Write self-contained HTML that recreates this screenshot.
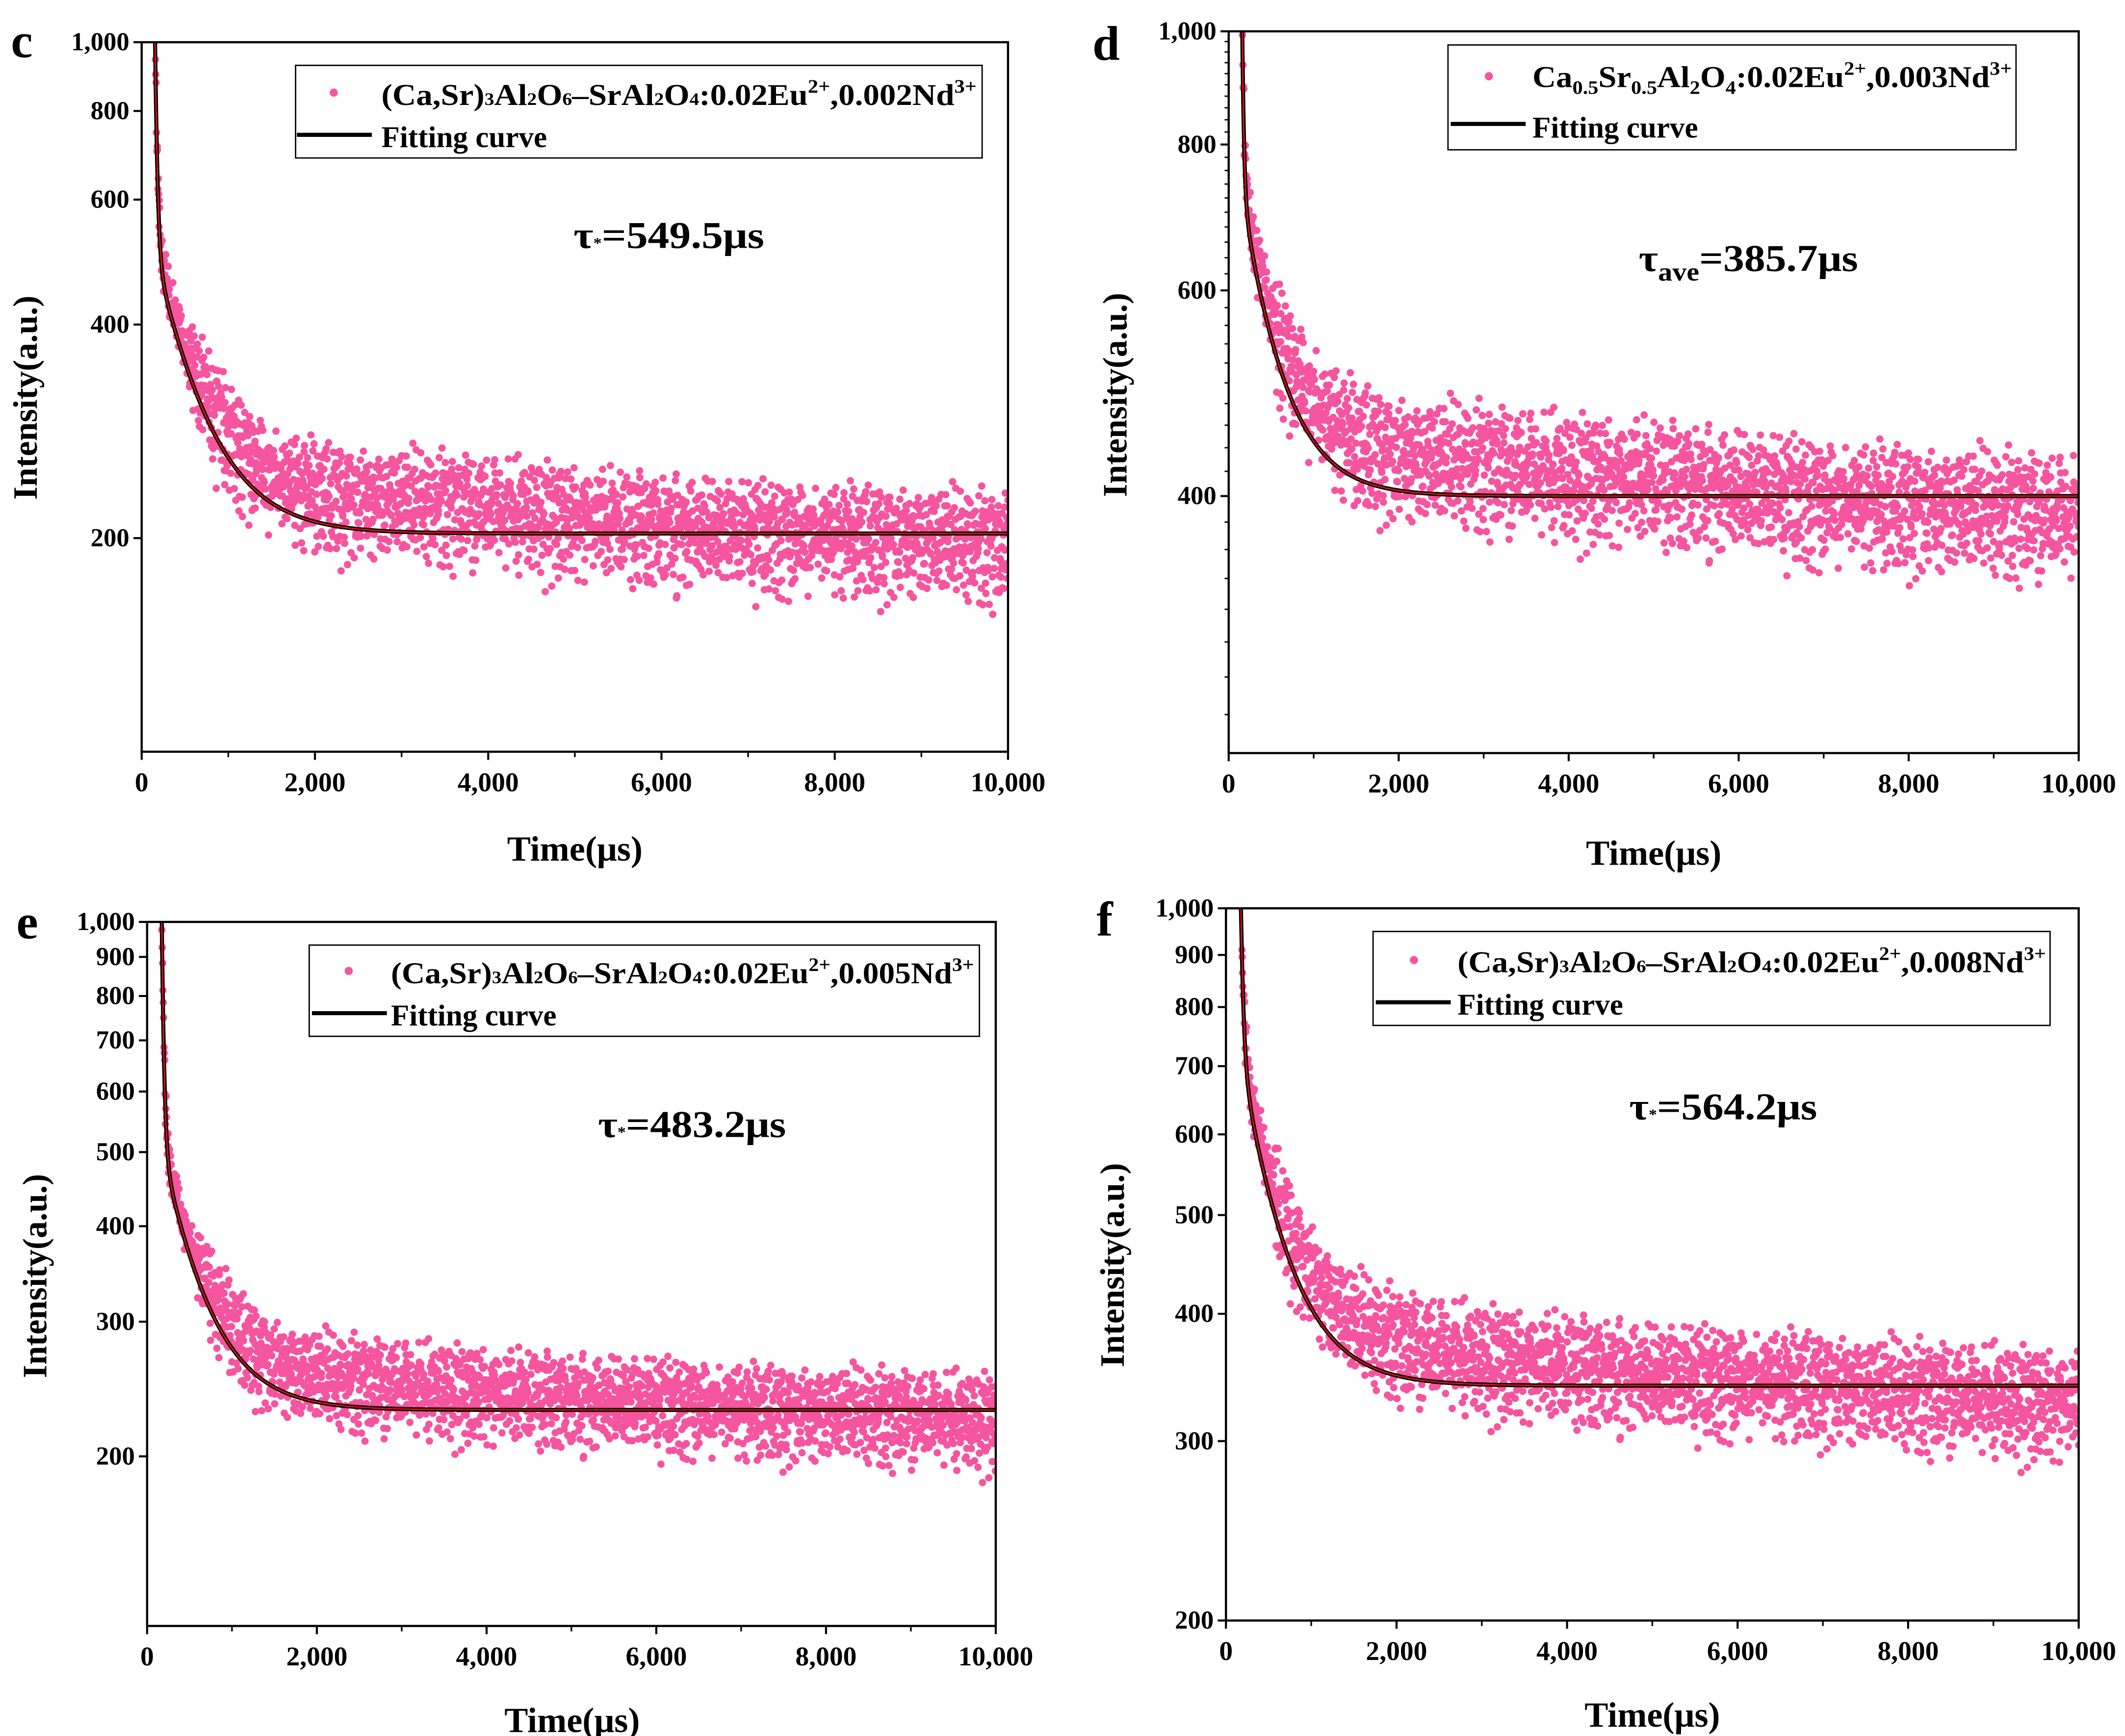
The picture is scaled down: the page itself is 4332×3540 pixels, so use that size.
<!DOCTYPE html>
<html><head><meta charset="utf-8">
<style>
html,body{margin:0;padding:0;background:#fff;}
svg{display:block;}
text{font-family:"Liberation Serif",serif;font-weight:bold;fill:#000;}
</style></head>
<body>
<svg id="fig" xmlns="http://www.w3.org/2000/svg" width="4332" height="3540" viewBox="0 0 1560 1274.8" preserveAspectRatio="none">
<rect x="0" y="0" width="1560" height="1275" fill="#fff"/>
<defs>
<clipPath id="clip-c"><rect x="104" y="31" width="636" height="521"/></clipPath>
<clipPath id="clip-d"><rect x="902" y="23" width="624" height="530"/></clipPath>
<clipPath id="clip-e"><rect x="108" y="677" width="623" height="517"/></clipPath>
<clipPath id="clip-f"><rect x="900" y="667" width="626" height="523"/></clipPath>
</defs>
<g id="layer-c"></g>
<g id="layer-d"></g>
<g id="layer-e"></g>
<g id="layer-f"></g>

<text x="8" y="42" font-size="36">c</text>
<text x="802" y="44" font-size="36">d</text>
<text x="12" y="689" font-size="36">e</text>
<text x="805" y="687" font-size="36">f</text>

<g>
<rect x="217" y="48" width="504" height="68" fill="#fff" stroke="#000" stroke-width="1"/>
<circle cx="245" cy="68" r="3" fill="#f5559f"/>
<line x1="218" y1="99" x2="273" y2="99" stroke="#000" stroke-width="3"/>
<text x="280" y="77" font-size="22" textLength="437" lengthAdjust="spacingAndGlyphs">(Ca,Sr)<tspan font-size="13">3</tspan>Al<tspan font-size="13">2</tspan>O<tspan font-size="13">6</tspan>–SrAl<tspan font-size="13">2</tspan>O<tspan font-size="13">4</tspan>:0.02Eu<tspan font-size="14" dy="-9">2+</tspan><tspan dy="9">,0.002Nd</tspan><tspan font-size="14" dy="-9">3+</tspan></text>
<text x="280" y="108" font-size="22">Fitting curve</text>
</g>
<g>
<rect x="1063" y="33" width="417" height="77" fill="#fff" stroke="#000" stroke-width="1"/>
<circle cx="1093" cy="56" r="3" fill="#f5559f"/>
<line x1="1065" y1="91" x2="1120" y2="91" stroke="#000" stroke-width="3"/>
<text x="1125" y="64" font-size="22" textLength="352" lengthAdjust="spacingAndGlyphs">Ca<tspan font-size="14" dy="5">0.5</tspan><tspan dy="-5">Sr</tspan><tspan font-size="14" dy="5">0.5</tspan><tspan dy="-5">Al</tspan><tspan font-size="14" dy="5">2</tspan><tspan dy="-5">O</tspan><tspan font-size="14" dy="5">4</tspan><tspan dy="-5">:0.02Eu</tspan><tspan font-size="14" dy="-9">2+</tspan><tspan dy="9">,0.003Nd</tspan><tspan font-size="14" dy="-9">3+</tspan></text>
<text x="1125" y="101" font-size="22">Fitting curve</text>
</g>
<g>
<rect x="227" y="694" width="492" height="67" fill="#fff" stroke="#000" stroke-width="1"/>
<circle cx="256" cy="713" r="3" fill="#f5559f"/>
<line x1="229" y1="744" x2="284" y2="744" stroke="#000" stroke-width="3"/>
<text x="287" y="722" font-size="22" textLength="428" lengthAdjust="spacingAndGlyphs">(Ca,Sr)<tspan font-size="13">3</tspan>Al<tspan font-size="13">2</tspan>O<tspan font-size="13">6</tspan>–SrAl<tspan font-size="13">2</tspan>O<tspan font-size="13">4</tspan>:0.02Eu<tspan font-size="14" dy="-9">2+</tspan><tspan dy="9">,0.005Nd</tspan><tspan font-size="14" dy="-9">3+</tspan></text>
<text x="287" y="753" font-size="22">Fitting curve</text>
</g>
<g>
<rect x="1008" y="684" width="497" height="69" fill="#fff" stroke="#000" stroke-width="1"/>
<circle cx="1038" cy="705" r="3" fill="#f5559f"/>
<line x1="1010" y1="736" x2="1065" y2="736" stroke="#000" stroke-width="3"/>
<text x="1070" y="714" font-size="22" textLength="432" lengthAdjust="spacingAndGlyphs">(Ca,Sr)<tspan font-size="13">3</tspan>Al<tspan font-size="13">2</tspan>O<tspan font-size="13">6</tspan>–SrAl<tspan font-size="13">2</tspan>O<tspan font-size="13">4</tspan>:0.02Eu<tspan font-size="14" dy="-9">2+</tspan><tspan dy="9">,0.008Nd</tspan><tspan font-size="14" dy="-9">3+</tspan></text>
<text x="1070" y="745" font-size="22">Fitting curve</text>
</g>

<text x="421" y="182" font-size="28" textLength="140" lengthAdjust="spacingAndGlyphs">τ<tspan font-size="11">*</tspan>=549.5μs</text>
<text x="1203" y="199" font-size="28" textLength="161" lengthAdjust="spacingAndGlyphs">τ<tspan font-size="19" dy="7">ave</tspan><tspan dy="-7">=385.7μs</tspan></text>
<text x="439" y="835" font-size="28" textLength="138" lengthAdjust="spacingAndGlyphs">τ<tspan font-size="11">*</tspan>=483.2μs</text>
<text x="1196" y="822" font-size="28" textLength="138" lengthAdjust="spacingAndGlyphs">τ<tspan font-size="11">*</tspan>=564.2μs</text>

<text x="422" y="632" font-size="26" text-anchor="middle">Time(μs)</text>
<text x="1214" y="635" font-size="26" text-anchor="middle">Time(μs)</text>
<text x="420" y="1272" font-size="26" text-anchor="middle">Time(μs)</text>
<text x="1213" y="1268" font-size="26" text-anchor="middle">Time(μs)</text>
<text transform="translate(27,292) rotate(-90)" font-size="25" text-anchor="middle">Intensity(a.u.)</text>
<text transform="translate(827,290) rotate(-90)" font-size="25" text-anchor="middle">Intensity(a.u.)</text>
<text transform="translate(34,937) rotate(-90)" font-size="25" text-anchor="middle">Intensity(a.u.)</text>
<text transform="translate(825,929) rotate(-90)" font-size="25" text-anchor="middle">Intensity(a.u.)</text>
</svg>
<script>
// ---- data ----
const panelIds = ['c','d','e','f'];
const xTickValues = [0,2000,4000,6000,8000,10000];
const xTickLabels = ['0','2,000','4,000','6,000','8,000','10,000'];
const xMinorTicks = [1000,3000,5000,7000,9000];
const yTicksC = [200,400,600,800,1000];
const yTicksD = [400,600,800,1000];
const yTicksE = [200,300,400,500,600,700,800,900,1000];
const yTicksF = [200,300,400,500,600,700,800,900,1000];
const yMinC = 100, yMinD = 241, yMinE = 120, yMinF = 200;
const fitBase = [203,400,230,340];
const fitFastAmp = [600,450,550,350];
const fitFastTau = [25,20,25,30];
const fitSlowAmp = [300,330,276,375];
const fitSlowTau = [510,430,469,474];
const fitStart = [150,150,170,170];
const scatterMeanC = [1.03,1.08,1.10,1.10,1.08,1.05,1.02,1.00,0.99,0.98,0.96];
const scatterMeanD = [1.02,1.08,1.07,1.06,1.04,1.03,1.01,0.99,0.98,0.97,0.96];
const scatterMeanE = [1.02,1.07,1.08,1.07,1.05,1.03,1.02,1.00,0.99,0.98,0.97];
const scatterMeanF = [1.02,1.08,1.08,1.06,1.04,1.02,1.01,1.00,0.98,0.97,0.96];
const scatterSpread = [0.19,0.13,0.15,0.13];
const jitterA = [0.12,-0.55,0.81,-0.23,0.44,-0.91,0.05,0.67,-0.38,0.29,-0.72,0.58,-0.09,0.93,-0.47,0.21,-0.64,0.36,-0.15,0.77,-0.83,0.49,-0.31,0.02,0.71,-0.59,0.18,-0.97,0.63,-0.26,0.39,-0.69,0.86,-0.11,0.27,-0.44,0.54];
const jitterB = [-0.33,0.61,-0.07,0.22,-0.78,0.45,0.09,-0.52,0.88,-0.19,0.34,-0.66,0.13,0.75,-0.41,-0.02,0.57,-0.87,0.31,-0.24,0.69,-0.58,0.16,0.42,-0.95,0.08,0.52,-0.36,0.83,-0.14,-0.61,0.27,0.97,-0.46,0.04,-0.73,0.38,0.19,-0.28,0.64,-0.5];

const layout = {
  c:{L:104,R:740,T:31,B:552},
  d:{L:902,R:1526,T:23,B:553},
  e:{L:108,R:731,T:677,B:1194},
  f:{L:900,R:1526,T:667,B:1190}
};
const yTickSets = [yTicksC,yTicksD,yTicksE,yTicksF];
const yMins = [yMinC,yMinD,yMinE,yMinF];
const scatterMeans = [scatterMeanC,scatterMeanD,scatterMeanE,scatterMeanF];
const NS = 'http://www.w3.org/2000/svg';
function mk(tag, attrs, parent){const e=document.createElementNS(NS,tag);for(const k in attrs)e.setAttribute(k,attrs[k]);parent.appendChild(e);return e;}

panelIds.forEach((id,pi)=>{
  const g = document.getElementById('layer-'+id);
  const P = layout[id];
  const yMax = 1000, yMin = yMins[pi];
  const xs = t => P.L + (P.R-P.L)*t/10000;
  const ys = v => P.T + (Math.log10(yMax)-Math.log10(v))/(Math.log10(yMax)-Math.log10(yMin))*(P.B-P.T);
  const fit = t => { const d=Math.max(0,t-fitStart[pi]); return fitBase[pi]+fitFastAmp[pi]*Math.exp(-d/fitFastTau[pi])+fitSlowAmp[pi]*Math.exp(-d/fitSlowTau[pi]); };
  const meanAt = t => { const m=scatterMeans[pi]; const f=t/1000; const i=Math.min(9,Math.floor(f)); const r=f-i; return m[i]*(1-r)+m[i+1]*r; };

  const sg = mk('g',{'clip-path':'url(#clip-'+id+')'},g);
  
  
  const N = 2400;
  for(let i=0;i<N;i++){
    const t = fitStart[pi] + (10000-fitStart[pi])*i/(N-1);
    const j = 0.65*jitterA[(i*7+pi)%jitterA.length] + 0.55*jitterB[(i*11+pi*3)%jitterB.length];
    const early = t < fitStart[pi]+400 ? 0.5 : 1;
    const v = fit(t)*meanAt(t)*(1+scatterSpread[pi]*early*j);
    const c = mk('circle',{cx:xs(t).toFixed(1),cy:ys(v).toFixed(1),r:2.7,fill:'#f5559f'},sg);
    
    
  }
  let dstr='';
  for(let k=0;k<=800;k++){
    const t = fitStart[pi]-5 + (10000-fitStart[pi]+5)*Math.pow(k/800,1.6);
    dstr += (k?'L':'M')+xs(t).toFixed(2)+','+ys(Math.min(fit(t),5000)).toFixed(2);
  }
  const cg = mk('g',{'clip-path':'url(#clip-'+id+')'},g);
  const p1 = mk('path',{d:dstr,fill:'none',stroke:'#000',"stroke-width":3},cg);
  
  
  mk('path',{d:dstr,fill:'none',stroke:'#e0101a',"stroke-width":1},cg);

  const fr = mk('rect',{x:P.L,y:P.T,width:P.R-P.L,height:P.B-P.T,fill:'none',stroke:'#000','stroke-width':1.6},g);
  
  
  xTickValues.forEach((v,k)=>{
    mk('line',{x1:xs(v),y1:P.B,x2:xs(v),y2:P.B+6,stroke:'#000','stroke-width':1.5},g);
    const tx = mk('text',{x:xs(v),y:P.B+29,'font-size':20,'text-anchor':'middle'},g);
    tx.textContent = xTickLabels[k];
    
    
  });
  xMinorTicks.forEach(v=>mk('line',{x1:xs(v),y1:P.B,x2:xs(v),y2:P.B+4,stroke:'#000','stroke-width':1.2},g));
  yTickSets[pi].forEach(v=>{
    mk('line',{x1:P.L-6,y1:ys(v),x2:P.L,y2:ys(v),stroke:'#000','stroke-width':1.5},g);
    const tx = mk('text',{x:P.L-9,y:ys(v)+6,'font-size':19,'text-anchor':'end'},g);
    tx.textContent = v>=1000 ? '1,000' : String(v);
    
    
  });
  if(id==='d'){
    for(let v=260; v<1000; v+=20){
      if(yTicksD.indexOf(v)>=0) continue;
      mk('line',{x1:P.L-3,y1:ys(v),x2:P.L,y2:ys(v),stroke:'#000','stroke-width':1},g);
    }
  }
});
</script>
</body></html>
